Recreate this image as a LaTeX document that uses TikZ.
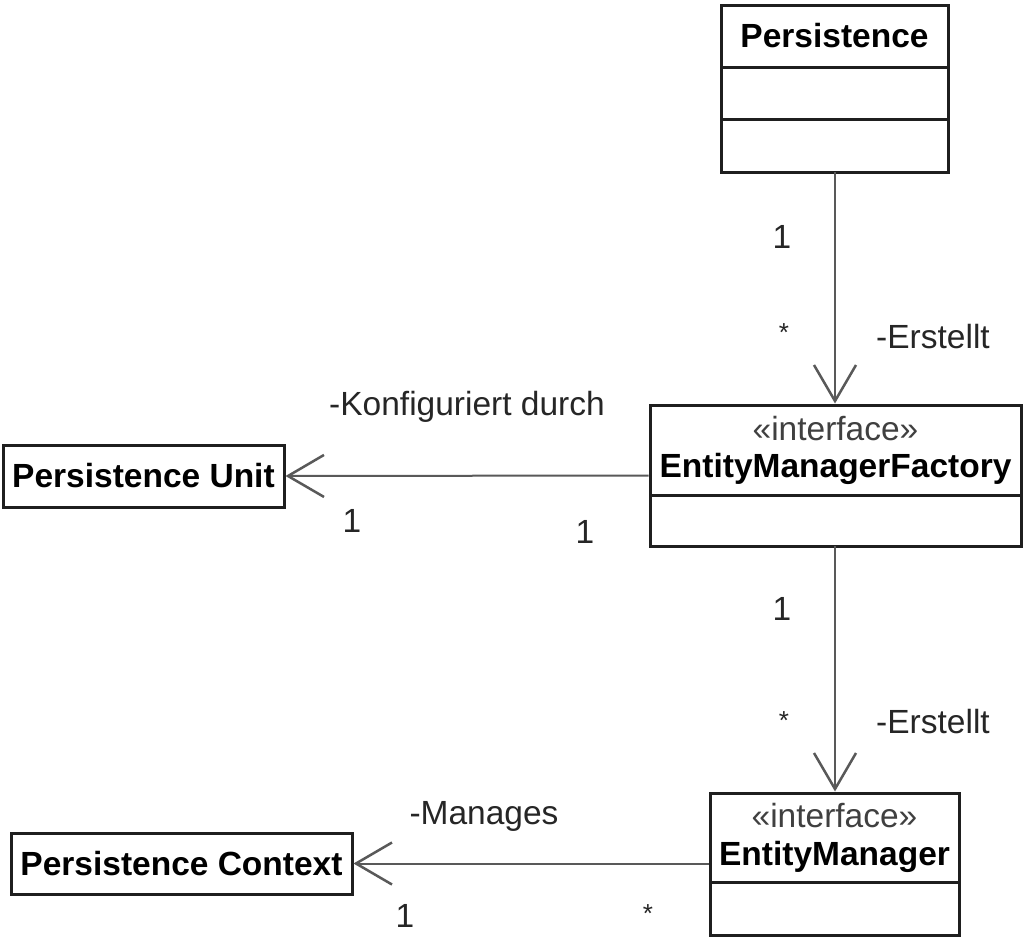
\documentclass[tikz,border=0pt]{standalone}
\usepackage{fontspec}
\setmainfont{Liberation Sans}
\usetikzlibrary{arrows.meta}
\begin{document}
\begin{tikzpicture}[x=1pt,y=-1pt,
  box/.style={draw=black!88, line width=3pt, rectangle, inner sep=0pt, fill=white},
  divider/.style={draw=black!88, line width=3pt},
  title/.style={font=\fontsize{33.5}{36}\selectfont\bfseries, inner sep=0pt},
  stereo/.style={font=\fontsize{33.5}{36}\selectfont, text=black!75, inner sep=0pt},
  lbl/.style={font=\fontsize{33.5}{36}\selectfont, text=black!85, inner sep=0pt},
  star/.style={font=\fontsize{26}{30}\selectfont, text=black!85, inner sep=0pt},
  assoc/.style={draw=black!65, line width=2pt, -{Straight Barb[length=36pt,width=42pt,line width=2.5pt]}}
]
\fill[white] (0,0) rectangle (1025,937);
\useasboundingbox (0,0) rectangle (1025,937);

% Persistence class
\node[box, minimum width=227pt, minimum height=167pt] (pers) at (834.5,88.5) {};
\node[title] (perst) at (834.5,36) {Persistence};
\draw[divider] (721,67) -- (948,67);
\draw[divider] (721,119) -- (948,119);

% EntityManagerFactory
\node[box, minimum width=371pt, minimum height=141pt] (emf) at (835.5,475.5) {};
\node[stereo] (emfs) at (835.5,429) {«interface»};
\node[title] (emft) at (835.5,469) {EntityManagerFactory};
\draw[divider] (650,495) -- (1021,495);

% EntityManager
\node[box, minimum width=249pt, minimum height=142pt] (em) at (834.5,864) {};
\node[stereo] (ems) at (834.5,816) {«interface»};
\node[title] (emt) at (834.5,857) {EntityManager};
\draw[divider] (710,882) -- (959,882);

% Persistence Unit
\node[box, minimum width=281pt, minimum height=62pt] (pu) at (143.5,476) {};
\node[title] at (pu.center) {Persistence Unit};

% Persistence Context
\node[box, minimum width=341pt, minimum height=61pt] (pc) at (181.5,863.5) {};
\node[title] at (pc.center) {Persistence Context};

% associations
\coordinate (a1) at (835,172);
\coordinate (a2) at (835,546);
\draw[assoc] (a1) -- (a1 |- emf.north);
\draw[assoc] (a2) -- (a2 |- em.north);
\draw[assoc] (emf.west) -- (pu.east);
\draw[assoc] (em.west |- pc.east) -- (pc.east);

% multiplicities and role names
\node[lbl] at (782,237) {1};
\node[star] at (784,333) {*};
\node[lbl] at (933,337) {-Erstellt};
\node[lbl] at (467,407) {-Konfiguriert durch};
\node[lbl] at (352,521) {1};
\node[lbl] at (585,532) {1};
\node[lbl] at (782,609) {1};
\node[star] at (784,721) {*};
\node[lbl] at (933,722) {-Erstellt};
\node[lbl] at (484,816) {-Manages};
\node[star] at (648,914) {*};
\node[lbl] at (405,916) {1};
\end{tikzpicture}
\end{document}
